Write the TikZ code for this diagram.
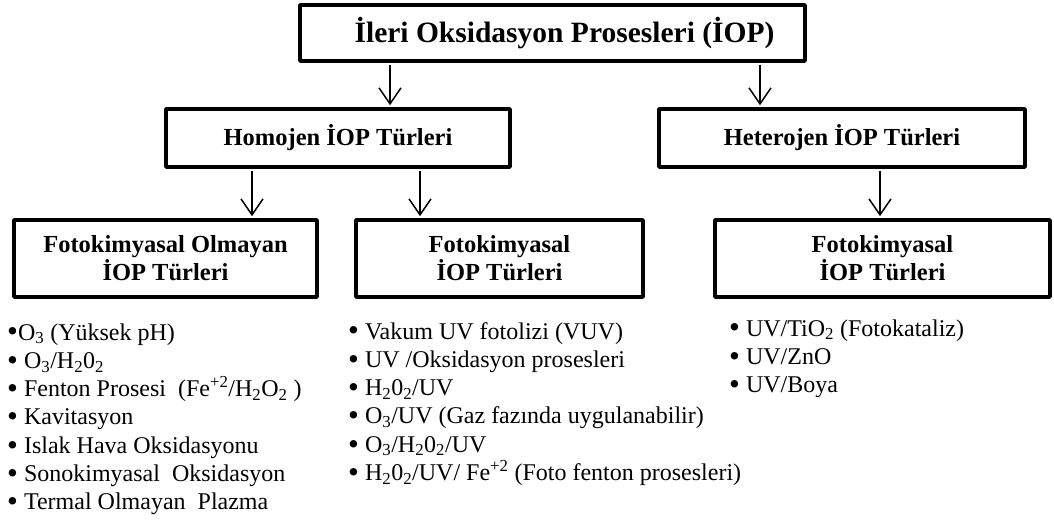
\documentclass[tikz,border=0pt]{standalone}
\usepackage{fontspec}
\setmainfont{Liberation Serif}
\usetikzlibrary{arrows.meta,positioning}
\tikzset{
  box/.style={draw=black,line width=3.6pt,line join=round,align=center,inner sep=0pt}, % framed heading
  ttl/.style={font=\bfseries\fontsize{29.5}{34}\selectfont},
  hdr/.style={font=\bfseries\fontsize{24.5}{28}\selectfont},
  item/.style={font=\fontsize{24}{28}\selectfont,anchor=base west,inner sep=0pt},     % bullet line
  arr/.style={-{Straight Barb[length=16pt,width=22pt,line width=1.5pt]},line width=1.5pt,shorten >=2pt,shorten <=1.8pt},
}
\newcommand{\bul}{\smash{\raisebox{-1.8pt}{\fontsize{31}{28}\selectfont•}}}

\begin{document}
\begin{tikzpicture}[x=1pt,y=-1pt]
  \useasboundingbox (0,0) rectangle (1054,519);
  % boxes
  \node[box,ttl,minimum width=505,minimum height=56] (iop) at (552.5,33) {\hspace*{24pt}İleri Oksidasyon Prosesleri (İOP)};
  \node[box,hdr,minimum width=344,minimum height=58] (hom) at (338,138) {Homojen İOP Türleri};
  \node[box,hdr,minimum width=366,minimum height=58] (het) at (842,138) {Heterojen İOP Türleri};
  \node[box,hdr,minimum width=303,minimum height=77] (fol) at (165.5,258.5) {Fotokimyasal Olmayan\\İOP Türleri};
  \node[box,hdr,minimum width=287,minimum height=77] (fhm) at (499.5,258.5) {Fotokimyasal\\İOP Türleri};
  \node[box,hdr,minimum width=335,minimum height=77] (fht) at (882.5,258.5) {Fotokimyasal\\İOP Türleri};
  % arrows
  \coordinate (c1) at (390,0);
  \coordinate (c2) at (760,0);
  \coordinate (c3) at (252,0);
  \coordinate (c4) at (420,0);
  \coordinate (c5) at (880,0);
  \draw[arr] (iop.south -| c1) -- (hom.north -| c1);
  \draw[arr] (iop.south -| c2) -- (het.north -| c2);
  \draw[arr] (hom.south -| c3) -- (fol.north -| c3);
  \draw[arr] (hom.south -| c4) -- (fhm.north -| c4);
  \draw[arr] (het.south -| c5) -- (fht.north -| c5);
  % lists
  \foreach \t [count=\i from 0] in {
    {\bul O\textsubscript{3} (Yüksek pH)},
    {\bul\ O\textsubscript{3}/H\textsubscript{2}0\textsubscript{2}},
    {\bul\ Fenton Prosesi~ (Fe\textsuperscript{+2}/H\textsubscript{2}O\textsubscript{2}~)},
    {\bul\ Kavitasyon},
    {\bul\ Islak Hava Oksidasyonu},
    {\bul\ Sonokimyasal~ Oksidasyon},
    {\bul\ Termal Olmayan~ Plazma}}
    \node[item] (ol\i) at (7,{340+28.3*\i}) {\t};
  \foreach \t [count=\i from 0] in {
    {\bul\ Vakum UV fotolizi (VUV)},
    {\bul\ UV /Oksidasyon prosesleri},
    {\bul\ H\textsubscript{2}0\textsubscript{2}/UV},
    {\bul\ O\textsubscript{3}/UV (Gaz fazında uygulanabilir)},
    {\bul\ O\textsubscript{3}/H\textsubscript{2}0\textsubscript{2}/UV},
    {\bul\ H\textsubscript{2}0\textsubscript{2}/UV/ Fe\textsuperscript{+2} (Foto fenton prosesleri)}}
    \node[item] (fk\i) at (348,{339+28.3*\i}) {\t};
  \foreach \t [count=\i from 0] in {
    {\bul\ UV/TiO\textsubscript{2} (Fotokataliz)},
    {\bul\ UV/ZnO},
    {\bul\ UV/Boya}}
    \node[item] (ht\i) at (729,{336+28.3*\i}) {\t};
\end{tikzpicture}
\end{document}
